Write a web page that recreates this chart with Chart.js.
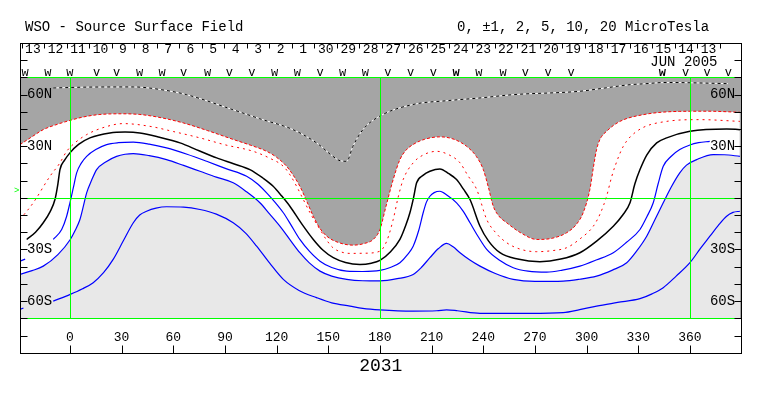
<!DOCTYPE html>
<html>
<head>
<meta charset="utf-8">
<script src="https://cdn.jsdelivr.net/npm/chart.js@4.4.0/dist/chart.umd.min.js"></script>
<style>
  html, body { margin: 0; padding: 0; background: #fff; }
  canvas { display: block; }
</style>
</head>
<body>
<canvas id="wso-chart" width="763" height="396"></canvas>
<script>
// axis ticks
let lonTicks = [0, 30, 60, 90, 120, 150, 180, 210, 240, 270, 300, 330, 360];
let latTicks = [-70, -60, -50, -40, -30, -20, -10, 0, 10, 20, 30, 40, 50, 60, 70];
let latNames = { "60": "60N", "30": "30N", "-30": "30S", "-60": "60S" };
let lonGreen = [0, 180, 360];
let latGreen = [-70, 0, 70];

// days along the top strip (time runs right to left)
let dayLabels = ["13", "12", "11", "10", "9", "8", "7", "6", "5", "4", "3", "2", "1", "30", "29", "28",
                 "27", "26", "25", "24", "23", "22", "21", "20", "19", "18", "17", "16", "15", "14", "13"];
let dayLon = [-21.5, -8.4, 4.7, 17.7, 30.8, 43.9, 57.0, 70.0, 83.1, 96.2, 109.3, 122.3, 135.4, 148.5, 161.6, 174.6,
              187.7, 200.8, 213.9, 226.9, 240.0, 253.1, 266.2, 279.3, 292.3, 305.4, 318.5, 331.6, 344.6, 357.7, 370.8];

// sector markers (W = bold w)
let sectorLon = [-26.1, -12.8, 0, 15.5, 27.1, 40.5, 53.5, 66.0, 80.0, 92.6, 105.6, 118.8, 132.0, 145.2, 158.3,
                 171.5, 184.6, 197.8, 211.0, 224.2, 237.4, 251.5, 264.5, 277.6, 291.0, 344.0, 357.5, 370.0, 382.3];
let sectorMark = ["w", "w", "w", "v", "v", "w", "w", "v", "w", "v", "v", "w", "w", "v", "w",
                  "w", "v", "v", "v", "W", "w", "w", "v", "v", "v", "W", "v", "v", "v"];
let earthLat = 4;

// contours [longitude, latitude]
let negFar = [[-9.7, 63.8], [10, 64.3], [36.8, 64.4], [55, 62.5], [67.8, 59.9], [94.6, 51.2], [110, 46], [129.5, 39.6],
  [143.2, 31.9], [152.7, 24.1], [157, 21.5], [160.7, 21.2], [164.3, 29.9], [170.1, 39.6], [180, 47.5], [199.2, 54.2],
  [220, 56.5], [238.1, 58.0], [257.2, 59.9], [296.1, 61.9], [310, 63.7], [325.2, 65.7], [333, 66.2], [346.5, 67.0],
  [365.8, 66.7], [382.1, 66.3]];

let negOuter = [[-29, 30.9], [-22, 35.5], [-15.5, 39.6], [-7, 42.8], [0.2, 45.0], [8, 47], [17.4, 48.4], [30, 48.8],
  [40.6, 48.4], [53, 46.5], [65.8, 43.5], [80, 39], [94.8, 33.9], [105, 30.5], [114.2, 27.0], [120, 23.5], [125.8, 18.3],
  [129.7, 13], [133.5, 6.7], [137.5, -2], [141.3, -10.7], [145, -17.5], [149.1, -22.3], [156, -26], [164.5, -27.5],
  [171, -26.5], [176.1, -24.2], [180, -18.4], [183.5, -5], [187.7, 10.6], [191.6, 22.2], [195, 27.5], [199.3, 31.0],
  [206, 34], [214.8, 35.4], [223, 34], [230.3, 29.9], [236, 24], [240.0, 16.4], [243, 6], [245.8, -4.9], [249, -10.5],
  [253.6, -14.5], [262, -20.5], [271.0, -24.2], [280, -23.5], [288.4, -20.3], [294, -15.5], [298.0, -8.7], [301.9, 4.8],
  [304, 18], [305.8, 28], [307.7, 33.8], [312, 39], [319.4, 44.4], [332.9, 48.3], [354.1, 50.2], [370, 50.3], [389, 49.7]];

let negInner = [[-29, -12.6], [-21.3, -2.9], [-11.6, 12.5], [-6, 20], [-1.9, 27.0], [3, 32], [9.7, 36.7], [20, 41],
  [30.9, 43.1], [46.5, 41.5], [60, 38.5], [75.5, 34.8], [90, 30.8], [106.4, 27.0], [116, 23], [123.9, 18.3], [128, 13],
  [131.6, 6.7], [135.5, -1], [139.4, -8.7], [145.2, -18.4], [149, -24.5], [152.7, -29.0], [157, -31.3], [162.6, -32.3],
  [171, -32.2], [180, -31.0], [184, -25], [187.7, -12.6], [190.5, 0], [193.5, 10.6], [199.3, 20.3], [205, 24.8],
  [212.9, 27.0], [220, 25], [226.5, 20.3], [231, 13], [236.2, 4.8], [242.0, -12.6], [247, -20], [253.6, -26.1], [262, -30],
  [271.0, -31.3], [280, -30.7], [288.4, -29.0], [296, -24], [303.9, -16.5], [308, -9], [311.6, 0.9], [314.5, 12],
  [316.5, 18.3], [321.3, 29.9], [329.1, 38.6], [346.5, 44.4], [365.8, 45.4], [389, 44.4]];

let neutral = [[-25.1, -24.2], [-20, -20], [-15.5, -14.5], [-11.5, -8], [-8.7, -1.0], [-7, 8], [-5.8, 16.4], [-3, 22],
  [0, 26.1], [5, 31], [11.6, 34.8], [23.2, 37.7], [32, 38.2], [40.6, 37.7], [52, 35.2], [63.9, 31.9], [75, 27.3],
  [85.2, 23.2], [95, 19.8], [104.5, 16.4], [112, 11.5], [118.0, 6.7], [123, 1], [127.7, -4.9], [134.5, -15], [141.3, -24.2],
  [147, -30.5], [152.9, -34.8], [160, -37.6], [168.4, -38.7], [175, -38], [180, -36.4], [186, -31.5], [191.6, -24.2],
  [195, -16], [197.4, -8.7], [199.5, 0], [201.3, 8.7], [205, 13], [209.0, 15.4], [214.8, 16.8], [220, 14], [224.5, 10.6],
  [228.5, 5], [232.3, -1.0], [238.1, -16.5], [243, -25], [249.7, -31.9], [260, -35.6], [272.9, -37.1], [285, -35.6],
  [296.1, -31.9], [306, -25], [315.5, -16.5], [321, -10], [325.2, -2.9], [328, 8], [331.0, 16.4], [335, 25], [340.7, 31.9],
  [346.5, 34.8], [360, 38.6], [381.3, 40.0], [389, 39.6]];

let posInner = [[-29, -36.8], [-26, -35.6], [-20, null], [-9.7, -24.2], [-4.8, -18.4], [-2, -11], [0, -2.9], [2, 6],
  [3.9, 14.5], [6.5, 20], [9.7, 24.1], [15, 28], [21.3, 30.9], [28, 32], [36.8, 32.3], [46, 31.2], [56.1, 29.0],
  [68, 25.3], [79.4, 21.2], [91, 16.8], [102.6, 12.5], [109, 8], [114.2, 2.9], [119, -2.5], [123.9, -8.7], [128.5, -16],
  [133.5, -24.2], [139, -31], [145.2, -36.8], [152, -40.5], [160.7, -42.6], [170, -42.8], [180, -42.2], [186, -40.5],
  [191.6, -37.7], [196, -33], [199.3, -28.1], [202.5, -19], [205.1, -8.7], [207, -2.5], [209.0, 0.9], [211.5, 3],
  [214.8, 3.8], [219, 1.5], [224.5, -2.9], [228.5, -8], [232.3, -14.5], [237, -22.5], [242.0, -30.0], [249, -36],
  [257.4, -40.6], [266, -42.6], [276.8, -43.2], [286, -42], [296.1, -39.7], [306, -36], [315.5, -31.9], [323, -26],
  [331.0, -18.4], [335, -11], [338.7, -2.9], [341.5, 8], [344.5, 18.3], [349, 24], [354.1, 28.0], [360, 30.7],
  [365, 32], [371.5, 32.8]];

let posOuter = [[-29, -44.5], [-22, -42.3], [-15.5, -39.7], [-7, -33], [0.2, -24.2], [3, -19], [5.8, -12.6], [8, -4],
  [9.7, 2.9], [12.5, 10], [15.5, 16.4], [21, 21], [27.1, 24.1], [32, 25.3], [36.8, 25.7], [46, 24.5], [56.1, 22.2],
  [66, 18.8], [75.5, 15.4], [85, 12], [94.8, 8.7], [102.5, 3.5], [110.3, -2.9], [116, -9.5], [121.9, -16.5], [127.5, -24],
  [133.5, -31.9], [139, -37.8], [145.2, -42.6], [152, -45.5], [160.7, -47.4], [170, -48.2], [180, -48.3], [190, -47],
  [199.3, -44.5], [204, -40.5], [209.0, -34.8], [214, -29.5], [218.7, -26.5], [222.5, -28.5], [226.5, -31.9], [232, -36],
  [238.1, -39.7], [247, -44], [257.4, -47.4], [270, -48.6], [286.4, -48.4], [296, -47.3], [305.8, -45.5], [315, -42],
  [323.3, -37.7], [329, -31], [334.9, -22.3], [340, -12], [344.5, -2.9], [349, 6], [354.1, 14.5], [358, 19], [363.9, 22.2],
  [373.5, 25.1], [380, 25], [389, 24.1]];

let posFar = [[-29, -64.8], [-27, -64], [-20, null], [-9.7, -60.0], [0.2, -56.1], [7, -53], [13.5, -49.3], [19.5, -43.5],
  [25.1, -35.8], [31, -25], [36.8, -14.5], [40.5, -10], [44.5, -7.8], [50, -6], [56.1, -5.2], [66, -5.4], [75.5, -6.8],
  [85, -9.5], [94.8, -14.5], [102, -20.5], [108.4, -28.1], [116, -38], [123.9, -47.4], [133, -53.8], [143.2, -58.0],
  [152, -61], [162.6, -62.9], [170, -64.2], [180, -65.1], [199.3, -65.8], [213, -65.6], [218.7, -65.1], [225, -65.6],
  [238.1, -67.1], [267.1, -67.1], [286.4, -66.7], [296, -65], [305.8, -62.9], [318, -60.8], [331.0, -58.6], [338, -55.8],
  [344.5, -52.2], [352, -45.5], [360, -37.7], [366, -29.5], [371.6, -22.3], [376.5, -16], [381.3, -10.7], [385, -8.5],
  [389, -7.8]];

let green = "#00ff00";
let darkGray = "#a5a5a5";
let lightGray = "#e8e8e8";

function pts(arr) {
  return arr.map(p => ({ x: p[0], y: p[1] }));
}

function contour(data, color, width, dash, order) {
  return {
    data: pts(data),
    borderColor: color,
    borderWidth: width,
    borderDash: dash,
    fill: false,
    order: order,
    pointRadius: 0,
    pointHoverRadius: 0,
    cubicInterpolationMode: "monotone",
    spanGaps: false
  };
}

let background = {
  id: "background",
  beforeDraw(chart) {
    let ctx = chart.ctx, a = chart.chartArea;
    ctx.save();
    ctx.fillStyle = darkGray;
    ctx.fillRect(a.left, a.top, a.right - a.left, a.bottom - a.top);
    ctx.restore();
  },
  afterDatasetsDraw(chart) {
    // green reference lines on top of the fills
    let ctx = chart.ctx, a = chart.chartArea;
    let x = chart.scales.x, y = chart.scales.y;
    ctx.save();
    ctx.strokeStyle = green;
    ctx.lineWidth = 1;
    ctx.beginPath();
    lonGreen.forEach(v => {
      let px = Math.round(x.getPixelForValue(v)) + 0.5;
      ctx.moveTo(px, a.top); ctx.lineTo(px, a.bottom);
    });
    latGreen.forEach(v => {
      let py = Math.round(y.getPixelForValue(v)) + 0.5;
      ctx.moveTo(a.left, py); ctx.lineTo(a.right, py);
    });
    ctx.stroke();
    ctx.restore();
  }
};

let frame = {
  id: "frame",
  afterDraw(chart) {
    let ctx = chart.ctx, a = chart.chartArea;
    let x = chart.scales.x, xTop = chart.scales.xTop, y = chart.scales.y;
    let L = Math.round(a.left) + 0.5, R = Math.round(a.right) - 0.5;
    let T = Math.round(xTop.top) + 0.5, B = Math.round(a.bottom + 34.5) + 0.5;
    ctx.save();
    ctx.strokeStyle = "#000";
    ctx.lineWidth = 1;
    ctx.strokeRect(L, T, R - L, B - T);
    ctx.beginPath();
    y.ticks.forEach(t => {
      let py = Math.round(y.getPixelForValue(t.value)) + 0.5;
      ctx.moveTo(L, py); ctx.lineTo(L + 7, py);
      ctx.moveTo(R, py); ctx.lineTo(R - 7, py);
    });
    [T + 17, B - 17].forEach(py => {
      ctx.moveTo(L, py); ctx.lineTo(L + 7, py);
      ctx.moveTo(R, py); ctx.lineTo(R - 7, py);
    });
    x.ticks.forEach(t => {
      let px = Math.round(x.getPixelForValue(t.value)) + 0.5;
      ctx.moveTo(px, B - 8); ctx.lineTo(px, B);
    });
    let step = dayLon[1] - dayLon[0];
    for (let i = 0; i <= dayLon.length; i++) {
      let lon = i < dayLon.length ? dayLon[i] - step / 2 : dayLon[i - 1] + step / 2;
      let px = Math.round(xTop.getPixelForValue(lon)) + 0.5;
      ctx.moveTo(px, T); ctx.lineTo(px, T + 5);
    }
    ctx.stroke();

    ctx.fillStyle = "#000";
    ctx.textBaseline = "middle";
    ctx.font = "14px 'Liberation Mono'";
    ctx.textAlign = "left";
    ctx.fillText("WSO - Source Surface Field", 25, 27);
    ctx.fillText("0, \u00b11, 2, 5, 10, 20 MicroTesla", 457, 27);
    ctx.textAlign = "right";
    ctx.fillText("JUN 2005", R - 24, 62);

    ctx.textAlign = "center";
    ctx.textBaseline = "alphabetic";
    sectorLon.forEach((lon, i) => {
      let m = sectorMark[i];
      ctx.font = (m === "W" ? "bold " : "") + "12px 'Liberation Mono'";
      ctx.fillText(m.toLowerCase(), x.getPixelForValue(lon), a.top - 1.5);
    });

    ctx.fillStyle = green;
    ctx.font = "9px 'Liberation Mono'";
    ctx.textAlign = "right";
    ctx.textBaseline = "middle";
    ctx.fillText(">", L - 1, y.getPixelForValue(earthLat));
    ctx.restore();
  }
};

Chart.defaults.font.family = "'Liberation Mono', monospace";
Chart.defaults.color = "#000";

let wsoChart = new Chart(document.getElementById("wso-chart").getContext("2d"), {
  type: "line",
  data: {
    datasets: [
      contour(negFar, "#000000", 1, [3, 3], 0),
      contour(negFar, "#ffffff", 1, [], 1),
      Object.assign(contour(negOuter, "#ff0000", 1, [3, 2], 3), { fill: "start", backgroundColor: "#ffffff" }),
      contour(negInner, "#ff0000", 1, [2, 4], 0),
      contour(neutral, "#000000", 1.5, [], 0),
      contour(posInner, "#0000ff", 1.2, [], 0),
      Object.assign(contour(posOuter, "#0000ff", 1.2, [], 2), { fill: "start", backgroundColor: lightGray }),
      contour(posFar, "#0000ff", 1.2, [], 0)
    ]
  },
  options: {
    responsive: false,
    animation: false,
    devicePixelRatio: 1,
    events: [],
    layout: { padding: { left: 20, right: 21.4, top: 43, bottom: 19.2 } },
    plugins: {
      legend: { display: false },
      title: { display: false },
      tooltip: { enabled: false },
      filler: { drawTime: "beforeDatasetsDraw" }
    },
    scales: {
      x: {
        type: "linear",
        position: "bottom",
        min: -29,
        max: 390,
        afterBuildTicks: s => { s.ticks = lonTicks.map(v => ({ value: v })); },
        afterFit: s => { s.height = 58.5; },
        grid: { display: false, drawTicks: false },
        border: { display: false },
        ticks: { autoSkip: false, maxRotation: 0, padding: 11.4, font: { size: 13 } },
        title: { display: true, text: "2031", font: { size: 18 }, padding: { top: 0, bottom: 0 } }
      },
      xTop: {
        type: "linear",
        position: "top",
        min: -29,
        max: 390,
        afterBuildTicks: s => { s.ticks = dayLon.map(v => ({ value: v })); },
        afterFit: s => { s.height = 34.3; },
        grid: { display: false, drawTicks: false },
        border: { display: false },
        ticks: {
          autoSkip: false,
          maxRotation: 0,
          padding: 20.2,
          font: { size: 13 },
          callback: (v, i) => dayLabels[i]
        }
      },
      y: {
        type: "linear",
        position: "left",
        min: -70,
        max: 70,
        afterBuildTicks: s => { s.ticks = latTicks.map(v => ({ value: v })); },
        afterFit: s => { s.width = 0; },
        grid: { display: false, drawTicks: false },
        border: { display: false },
        ticks: { autoSkip: false, mirror: true, z: 1, padding: 7, font: { size: 14 }, callback: v => latNames[v] || "" }
      },
      y2: {
        type: "linear",
        position: "right",
        min: -70,
        max: 70,
        afterBuildTicks: s => { s.ticks = latTicks.map(v => ({ value: v })); },
        afterFit: s => { s.width = 0; },
        grid: { display: false, drawTicks: false },
        border: { display: false },
        ticks: { autoSkip: false, mirror: true, z: 1, padding: -6.5, font: { size: 14 }, callback: v => latNames[v] || "" }
      }
    }
  },
  plugins: [background, frame]
});
</script>
</body>
</html>
